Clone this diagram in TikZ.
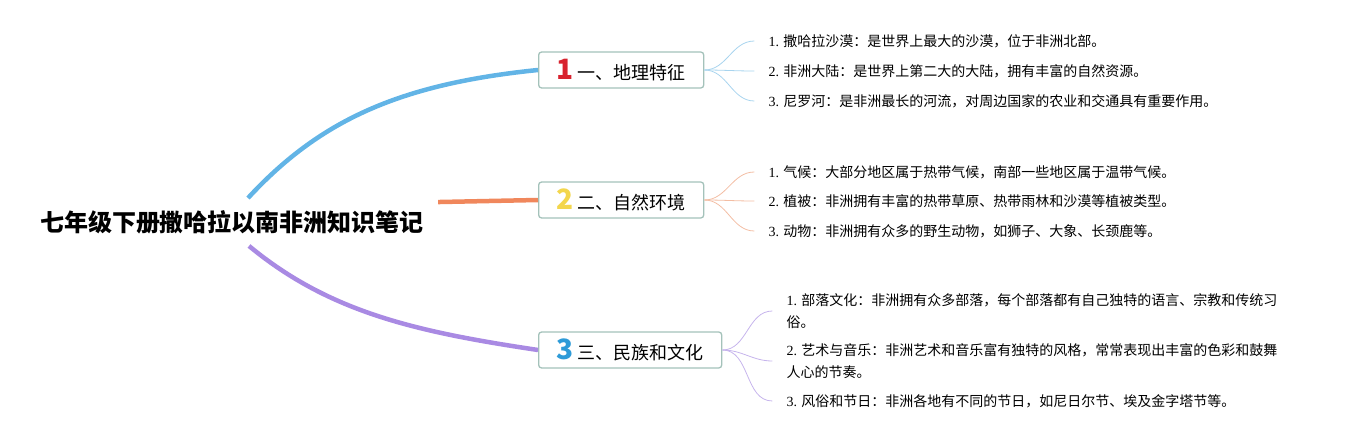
\documentclass[tikz,border=0pt]{standalone}
\usepackage{fontspec}
\setmainfont{Noto Sans CJK SC}
\newfontfamily\numfont{Liberation Serif}
\usetikzlibrary{positioning}
\definecolor{bluebranch}{HTML}{62B4E6}
\definecolor{orangebranch}{HTML}{F0875C}
\definecolor{purplebranch}{HTML}{A98AE3}
\definecolor{bluetwig}{HTML}{A8D4EE}
\definecolor{orangetwig}{HTML}{F3BDA3}
\definecolor{purpletwig}{HTML}{C6B4EC}
\definecolor{boxline}{HTML}{A4C2BA}
\definecolor{numred}{HTML}{D8222E}
\definecolor{numyellow}{HTML}{F3D64C}
\definecolor{numblue}{HTML}{2E9BD8}
\newcommand{\topicnum}[2]{{\color{#1}\fontsize{28}{28}\selectfont\bfseries #2}}

\begin{document}
\begin{tikzpicture}[x=1pt, y=1pt,
    root/.style = {font=\fontsize{24}{28}\selectfont\bfseries, inner xsep=0pt, inner ysep=12pt},
    topic/.style = {draw=boxline, line width=1.3pt, rounded corners=3pt, fill=white, anchor=west, minimum height=36pt, inner xsep=18pt, inner ysep=2pt, font=\fontsize{18}{20}\selectfont},
    leaf/.style = {inner xsep=14pt, inner ysep=2pt, align=left, font=\fontsize{14}{22}\selectfont},
    trunk/.style = {line width=4.5pt},
    twig/.style = {line width=0.8pt}]

    \useasboundingbox (0,0) rectangle (1347,440);

    \node[root] (r) at (232,218) {七年级下册撒哈拉以南非洲知识笔记};
    \node[topic] (t1) at (538,370) {\topicnum{numred}{1} 一、地理特征};
    \node[topic] (t2) at (538,240) {\topicnum{numyellow}{2} 二、自然环境};
    \node[topic] (t3) at (538,90) {\topicnum{numblue}{3} 三、民族和文化};

    \node[leaf] (l11) [right=50pt of t1, yshift=29pt] {{\numfont 1.} 撒哈拉沙漠：是世界上最大的沙漠，位于非洲北部。};
    \node[leaf] (l12) [right=50pt of t1, yshift=-1pt] {{\numfont 2.} 非洲大陆：是世界上第二大的大陆，拥有丰富的自然资源。};
    \node[leaf] (l13) [right=50pt of t1, yshift=-31pt] {{\numfont 3.} 尼罗河：是非洲最长的河流，对周边国家的农业和交通具有重要作用。};

    \node[leaf] (l21) [right=50pt of t2, yshift=28pt] {{\numfont 1.} 气候：大部分地区属于热带气候，南部一些地区属于温带气候。};
    \node[leaf] (l22) [right=50pt of t2, yshift=-1pt] {{\numfont 2.} 植被：非洲拥有丰富的热带草原、热带雨林和沙漠等植被类型。};
    \node[leaf] (l23) [right=50pt of t2, yshift=-31pt] {{\numfont 3.} 动物：非洲拥有众多的野生动物，如狮子、大象、长颈鹿等。};

    \node[leaf] (l31) [right=50pt of t3, yshift=39pt] {{\numfont 1.} 部落文化：非洲拥有众多部落，每个部落都有自己独特的语言、宗教和传统习\\俗。};
    \node[leaf] (l32) [right=50pt of t3, yshift=-11pt] {{\numfont 2.} 艺术与音乐：非洲艺术和音乐富有独特的风格，常常表现出丰富的色彩和鼓舞\\人心的节奏。};
    \node[leaf] (l33) [right=50pt of t3, yshift=-51pt] {{\numfont 3.} 风俗和节日：非洲各地有不同的节日，如尼日尔节、埃及金字塔节等。};

    % main branches
    \draw[trunk, bluebranch] ([xshift=16pt]r.north) .. controls (320,320) and (400,356) .. (t1.west);
    \draw[trunk, orangebranch] ([xshift=14pt,yshift=-4pt]r.north east) -- (t2.west);
    \draw[trunk, purplebranch] ([xshift=17pt]r.south) .. controls (330,127) and (418,108) .. (t3.west);

    % twigs
    \foreach \l in {l11,l12,l13} \draw[twig, bluetwig] (t1.east) to[out=0, in=180] (\l.west);
    \foreach \l in {l21,l22,l23} \draw[twig, orangetwig] (t2.east) to[out=0, in=180] (\l.west);
    \foreach \l in {l31,l32,l33} \draw[twig, purpletwig] (t3.east) to[out=0, in=180] (\l.west);
\end{tikzpicture}
\end{document}
